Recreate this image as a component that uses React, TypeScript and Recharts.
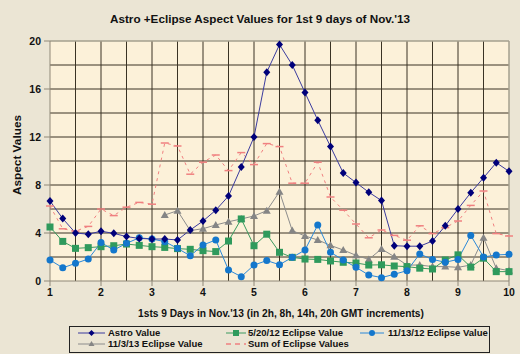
import { LineChart, Line, XAxis, YAxis, CartesianGrid, ReferenceLine } from 'recharts'

const days = [
  1, 1.25, 1.5, 1.75, 2, 2.25, 2.5, 2.75, 3, 3.25, 3.5, 3.75, 4, 4.25, 4.5, 4.75, 5, 5.25, 5.5,
  5.75, 6, 6.25, 6.5, 6.75, 7, 7.25, 7.5, 7.75, 8, 8.25, 8.5, 8.75, 9, 9.25, 9.5, 9.75, 10,
]

const astro = [
  6.67, 5.2, 4.0, 3.9, 4.15, 3.97, 3.7, 3.55, 3.5, 3.5, 3.42, 4.25, 5.0, 5.9, 7.08, 9.5, 12.0, 17.4,
  19.7, 18.0, 15.7, 13.4, 11.2, 9.0, 8.2, 7.4, 6.7, 2.94, 2.9, 2.9, 3.33, 4.6, 6.0, 7.36, 8.6, 9.86, 9.14,
]

const eclipse2012May = [
  4.5, 3.3, 2.72, 2.78, 2.86, 2.94, 3.08, 2.97, 2.86, 2.8, 2.7, 2.64, 2.53, 2.45, 3.33, 5.17, 2.94, 3.9,
  2.39, 1.97, 1.83, 1.8, 1.67, 1.56, 1.5, 1.33, 1.35, 1.25, 1.2, 1.07, 1.0, 1.75, 2.18, 1.16, 1.9, 0.78, 0.78,
]

const eclipse2012Nov = [
  1.75, 1.1, 1.47, 1.83, 3.2, 2.58, 3.14, 3.6, 3.5, 3.28, 2.72, 2.1, 3.0, 3.42, 0.92, 0.36, 1.33, 1.7,
  1.36, 1.97, 2.58, 4.67, 2.39, 1.75, 1.14, 0.5, 0.28, 0.56, 0.86, 2.25, 1.8, 1.56, 1.8, 3.8, 2.0, 2.17, 2.22,
]

const eclipse2013Nov = [
  null, null, null, null, null, null, null, null, null, 5.5, 5.86, 4.2, 4.36, 4.67, 4.94, 5.17, 5.42, 5.86,
  7.44, 4.2, 3.75, 3.42, 2.97, 2.58, 2.14, 1.8, 2.67, 2.03, 1.33, 1.33, 1.2, 1.2, 1.14, 1.33, 3.6, 1.06, 0.86,
]

const eclipseSum = [
  6.25, 4.35, 4.15, 4.55, 6.0, 5.45, 6.15, 6.55, 6.4, 11.5, 11.25, 8.9, 9.9, 10.5, 9.2, 10.7, 9.7, 11.45,
  11.2, 8.15, 8.15, 9.9, 7.0, 5.9, 4.75, 3.6, 4.25, 3.8, 3.4, 4.6, 3.95, 4.45, 5.0, 6.3, 7.5, 3.95, 3.75,
]

const xTicks = [1, 2, 3, 4, 5, 6, 7, 8, 9, 10]
const yTicks = [0, 4, 8, 12, 16, 20]
const xGrid = [1.5, 2, 2.5, 3, 3.5, 4, 4.5, 5, 5.5, 6, 6.5, 7, 7.5, 8, 8.5, 9, 9.5]
const yGrid = [2, 4, 6, 8, 10, 12, 14, 16, 18]

const data = days.map((d, i) => ({
  day: d,
  astro: astro[i],
  may12: eclipse2012May[i],
  nov12: eclipse2012Nov[i],
  nov13: eclipse2013Nov[i],
  sum: eclipseSum[i],
}))

const FONT = '"Liberation Sans", Arial, sans-serif'

function diamondDot(props: any) {
  const { cx, cy, index } = props
  if (cx == null || cy == null) return <g key={`a${index}`} />
  return (
    <path
      key={`a${index}`}
      d={`M${cx},${cy - 4}L${cx + 3.5},${cy}L${cx},${cy + 4}L${cx - 3.5},${cy}Z`}
      fill="#00007a"
    />
  )
}

function squareDot(props: any) {
  const { cx, cy, index } = props
  if (cx == null || cy == null) return <g key={`s${index}`} />
  return <rect key={`s${index}`} x={cx - 3.5} y={cy - 3.5} width={7} height={7} fill="#2f9a5c" />
}

function circleDot(props: any) {
  const { cx, cy, index } = props
  if (cx == null || cy == null) return <g key={`c${index}`} />
  return <circle key={`c${index}`} cx={cx} cy={cy} r={3.5} fill="#1477cc" />
}

function triangleDot(props: any) {
  const { cx, cy, index } = props
  if (cx == null || cy == null) return <g key={`t${index}`} />
  return (
    <path key={`t${index}`} d={`M${cx},${cy - 4}L${cx + 4},${cy + 3}L${cx - 4},${cy + 3}Z`} fill="#858585" />
  )
}

function dashDot(props: any) {
  const { cx, cy, index } = props
  if (cx == null || cy == null) return <g key={`p${index}`} />
  return <line key={`p${index}`} x1={cx - 4} x2={cx + 4} y1={cy} y2={cy} stroke="#f08080" strokeWidth={1.5} />
}

// legend layout: line start, line length and text start (page px)
const legendItems = [
  { name: 'Astro Value', color: '#3b3b9e', shape: 'diamond', lx: 78, len: 27, tx: 108, row: 0 },
  { name: '5/20/12 Eclipse Value', color: '#3a9a5e', shape: 'square', lx: 226, len: 20, tx: 248, row: 0 },
  { name: '11/13/12 Eclipse Value', color: '#2a88d8', shape: 'circle', lx: 360, len: 24, tx: 388, row: 0 },
  { name: '11/3/13 Eclipse Value', color: '#8c8c8c', shape: 'triangle', lx: 78, len: 27, tx: 108, row: 1 },
  { name: 'Sum of Eclipse Values', color: '#f08080', shape: 'dash', lx: 226, len: 20, tx: 248, row: 1 },
]

function LegendSample({ shape, color, len }: { shape: string; color: string; len: number }) {
  const cx = len / 2
  const cy = 5
  let marker = null
  if (shape === 'diamond') marker = <path d={`M${cx},${cy - 3}L${cx + 3},${cy}L${cx},${cy + 3}L${cx - 3},${cy}Z`} fill="#00007a" />
  if (shape === 'square') marker = <rect x={cx - 3} y={cy - 3} width={6} height={6} fill="#2f9a5c" />
  if (shape === 'circle') marker = <circle cx={cx} cy={cy} r={3} fill="#1477cc" />
  if (shape === 'triangle') marker = <path d={`M${cx},${cy - 3}L${cx + 3},${cy + 2}L${cx - 3},${cy + 2}Z`} fill="#858585" />
  return (
    <svg width={len} height={10} style={{ display: 'block' }}>
      <line
        x1={0}
        x2={len}
        y1={cy}
        y2={cy}
        stroke={color}
        strokeWidth={shape === 'dash' ? 1.5 : 1}
        strokeDasharray={shape === 'dash' ? '5 4' : undefined}
      />
      {marker}
    </svg>
  )
}

export default function App() {
  return (
    <div
      style={{
        position: 'absolute',
        left: 0,
        top: 0,
        width: 520,
        height: 354,
        background: '#ebe5d4',
        fontFamily: FONT,
        overflow: 'hidden',
      }}
    >
      <div
        style={{
          position: 'absolute',
          top: 12,
          left: 0,
          width: 520,
          textAlign: 'center',
          fontSize: 11.7,
          fontWeight: 'bold',
          color: '#111',
        }}
      >
        Astro +Eclipse Aspect Values for 1st 9 days of Nov.'13
      </div>
      <div
        style={{
          position: 'absolute',
          left: 17,
          top: 155,
          transform: 'translate(-50%, -50%) rotate(-90deg)',
          fontSize: 11.8,
          fontWeight: 'bold',
          whiteSpace: 'nowrap',
          color: '#111',
        }}
      >
        Aspect Values
      </div>
      <LineChart width={520} height={354} data={data} margin={{ top: 41, right: 11, bottom: 53, left: 0 }}>
        <CartesianGrid
          fill="#fcf1d9"
          stroke="#3a3324"
          strokeWidth={1}
          horizontalValues={yGrid}
          verticalValues={xGrid}
        />
        <ReferenceLine y={20} stroke="#a59f8e" strokeWidth={1.5} />
        <ReferenceLine x={10} stroke="#a59f8e" strokeWidth={1.5} />
        <XAxis
          dataKey="day"
          type="number"
          domain={[1, 10]}
          ticks={xTicks}
          height={20}
          tickSize={5}
          tickMargin={3}
          stroke="#8f8878"
          tick={{ fontSize: 10.5, fontWeight: 'bold', fill: '#111', fontFamily: FONT }}
        />
        <YAxis
          type="number"
          domain={[0, 20]}
          ticks={yTicks}
          width={50}
          tickSize={6}
          tickMargin={3}
          stroke="#8f8878"
          tick={{ fontSize: 10.5, fontWeight: 'bold', fill: '#111', fontFamily: FONT }}
        />
        <Line dataKey="sum" type="linear" stroke="#f08080" strokeWidth={1} strokeDasharray="3 4" dot={dashDot} activeDot={false} isAnimationActive={false} />
        <Line dataKey="nov13" type="linear" stroke="#8c8c8c" strokeWidth={1} dot={triangleDot} activeDot={false} isAnimationActive={false} />
        <Line dataKey="may12" type="linear" stroke="#3a9a5e" strokeWidth={1} dot={squareDot} activeDot={false} isAnimationActive={false} />
        <Line dataKey="nov12" type="linear" stroke="#2a88d8" strokeWidth={1} dot={circleDot} activeDot={false} isAnimationActive={false} />
        <Line dataKey="astro" type="linear" stroke="#3b3b9e" strokeWidth={1} dot={diamondDot} activeDot={false} isAnimationActive={false} />
      </LineChart>
      <div
        style={{
          position: 'absolute',
          top: 308,
          left: 0,
          width: 562,
          textAlign: 'center',
          fontSize: 10.2,
          fontWeight: 'bold',
          color: '#111',
        }}
      >
        1sts 9 Days in Nov.'13 (in 2h, 8h, 14h, 20h GMT increments)
      </div>
      <div
        style={{
          position: 'absolute',
          left: 69,
          top: 326,
          width: 421,
          height: 27,
          border: '1px solid #222',
          boxSizing: 'border-box',
        }}
      />
      {legendItems.map((it) => (
        <div key={it.name}>
          <div style={{ position: 'absolute', left: it.lx, top: 328 + it.row * 11 }}>
            <LegendSample shape={it.shape} color={it.color} len={it.len} />
          </div>
          <div
            style={{
              position: 'absolute',
              left: it.tx,
              top: 327 + it.row * 11,
              fontSize: 9.5,
              lineHeight: '12px',
              fontWeight: 'bold',
              color: '#111',
              whiteSpace: 'nowrap',
            }}
          >
            {it.name}
          </div>
        </div>
      ))}
    </div>
  )
}
